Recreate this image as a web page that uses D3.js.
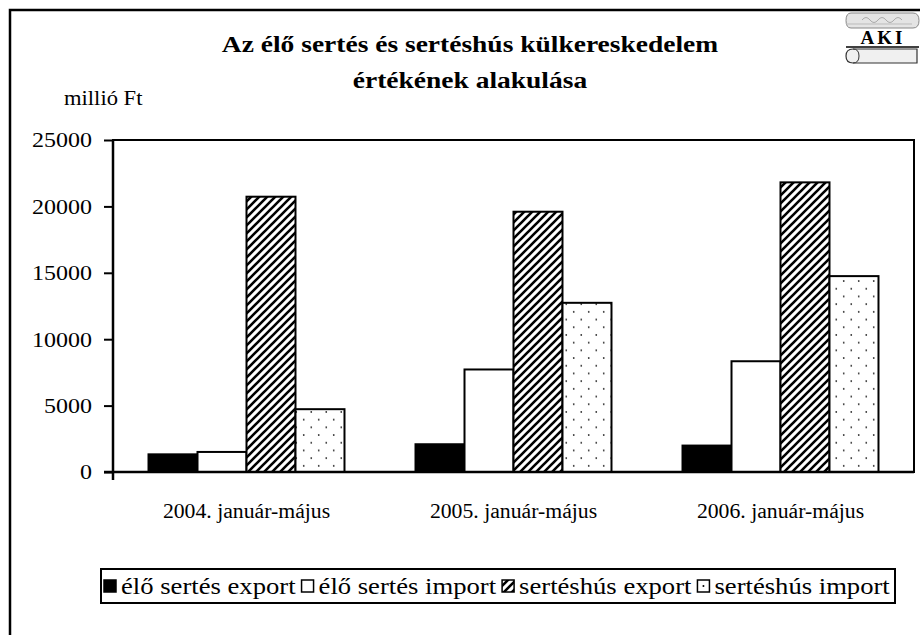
<!DOCTYPE html>
<html>
<head>
<meta charset="utf-8">
<script src="https://cdn.jsdelivr.net/npm/d3@7"></script>
<style>
  html, body { margin: 0; padding: 0; background: #fff; }
  text { font-family: "Liberation Serif", "Times New Roman", serif; fill: #000; }
</style>
</head>
<body>
<svg id="chart" width="920" height="635"></svg>
<script>
// ---- data ----
const categories = ["2004. január-május", "2005. január-május", "2006. január-május"];
const seriesNames = ["élő sertés export", "élő sertés import", "sertéshús export", "sertéshús import"];
const eloSertesExport = [1330, 2090, 1990];
const eloSertesImport = [1510, 7720, 8340];
const serteshusExport = [20730, 19600, 21810];
const serteshusImport = [4730, 12740, 14750];
const yTicks = [0, 5000, 10000, 15000, 20000, 25000];
const titleLines = ["Az élő sertés és sertéshús külkereskedelem", "értékének alakulása"];
const yUnit = "millió Ft";

const seriesValues = [eloSertesExport, eloSertesImport, serteshusExport, serteshusImport];
const fills = ["#000", "#fff", "url(#hatch)", "url(#dots)"];

const svg = d3.select("#chart");
svg.append("rect").attr("width", 920).attr("height", 635).attr("fill", "#fff");

const defs = svg.append("defs");
const hatch = defs.append("pattern").attr("id", "hatch").attr("patternUnits", "userSpaceOnUse")
  .attr("width", 8).attr("height", 8);
hatch.append("rect").attr("width", 8).attr("height", 8).attr("fill", "#fff");
hatch.append("path").attr("d", "M-2,2 L2,-2 M0,8 L8,0 M6,10 L10,6")
  .attr("stroke", "#000").attr("stroke-width", 2.6);
const dots = defs.append("pattern").attr("id", "dots").attr("patternUnits", "userSpaceOnUse")
  .attr("width", 15).attr("height", 15.4);
dots.append("rect").attr("width", 15).attr("height", 15.4).attr("fill", "#fff");
dots.append("circle").attr("cx", 3.75).attr("cy", 3.85).attr("r", 0.9).attr("fill", "#333");
dots.append("circle").attr("cx", 11.25).attr("cy", 11.55).attr("r", 0.9).attr("fill", "#333");

function stext(parent, x, y, str, size, sx, anchor, weight) {
  return parent.append("text")
    .attr("transform", `translate(${x},${y}) scale(${sx},1)`)
    .attr("font-size", size).attr("text-anchor", anchor || "start")
    .attr("font-weight", weight || "normal").text(str);
}

// outer frame
svg.append("rect").attr("x", 10).attr("y", 10).attr("width", 930).attr("height", 640)
  .attr("fill", "none").attr("stroke", "#000").attr("stroke-width", 2.5);

// title
stext(svg, 470, 52, titleLines[0], 23.5, 1.17, "middle", "bold");
stext(svg, 470, 88, titleLines[1], 23.5, 1.17, "middle", "bold");

// unit label
stext(svg, 64, 105, yUnit, 20, 1.13, "start");

// scales
const plot = { left: 113, right: 914, top: 140, bottom: 472 };
const x = d3.scaleBand().domain(categories).range([plot.left, plot.right])
  .paddingInner(0.266).paddingOuter(0.133);
const xs = d3.scaleBand().domain(d3.range(seriesNames.length)).range([0, x.bandwidth()]);
const y = d3.scaleLinear().domain([0, 25000]).range([plot.bottom, plot.top]);

// plot area border
svg.append("rect").attr("x", plot.left).attr("y", plot.top)
  .attr("width", plot.right - plot.left).attr("height", plot.bottom - plot.top)
  .attr("fill", "none").attr("stroke", "#000").attr("stroke-width", 2);

// bars
seriesValues.forEach((vals, si) => {
  svg.append("g").selectAll("rect").data(vals).join("rect")
    .attr("x", (d, i) => x(categories[i]) + xs(si))
    .attr("y", d => y(d))
    .attr("width", xs.bandwidth())
    .attr("height", d => y(0) - y(d))
    .attr("fill", fills[si]).attr("stroke", "#000").attr("stroke-width", 2);
});

// y axis
const yAxis = svg.append("g").attr("transform", `translate(${plot.left},0)`)
  .call(d3.axisLeft(y).tickValues(yTicks).tickSize(9).tickSizeOuter(0).tickPadding(0).tickFormat(d3.format("d")));
yAxis.select(".domain").attr("stroke-width", 2.5).attr("d", `M0,${plot.top}V${plot.bottom + 8}`);
yAxis.selectAll(".tick line").attr("stroke-width", 2);
yAxis.selectAll(".tick text").attr("x", null).attr("dy", "0.34em")
  .attr("transform", `translate(-21,0) scale(1.17,1)`)
  .attr("font-size", 20.5).attr("font-family", "Liberation Serif, Times New Roman, serif");

// x baseline
svg.append("line").attr("x1", plot.left - 9).attr("x2", plot.right)
  .attr("y1", y(0)).attr("y2", y(0)).attr("stroke", "#000").attr("stroke-width", 2.5);

// x labels
categories.forEach(c => stext(svg, x(c) + x.bandwidth() / 2, 518, c, 20.5, 1.06, "middle"));

// legend
const lg = svg.append("g");
lg.append("rect").attr("x", 101).attr("y", 569).attr("width", 794).attr("height", 34)
  .attr("fill", "#fff").attr("stroke", "#000").attr("stroke-width", 2);
let lx = 104;
seriesNames.forEach((n, i) => {
  lg.append("rect").attr("x", lx).attr("y", 580).attr("width", 12).attr("height", 12)
    .attr("fill", i === 3 ? "#fff" : fills[i]).attr("stroke", "#000").attr("stroke-width", 1.5);
  if (i === 3) lg.append("circle").attr("cx", lx + 6).attr("cy", 586).attr("r", 1).attr("fill", "#000");
  const t = stext(lg, lx + 17, 594, n, 22.2, 1.2, "start");
  const w = t.node().getComputedTextLength() * 1.2;
  lx += 17 + w + 6;
});

// AKI logo
const logo = svg.append("g");
logo.append("path").attr("d", "M851,13 H913 Q919,13 919,20.5 Q919,28 913,28 H851 Q846,28 846,20.5 Q846,13 851,13 Z")
  .attr("fill", "#e4e4e4").attr("stroke", "#888").attr("stroke-width", 1);
logo.append("path").attr("d", "M862,20 q4,-5 8,0 q4,5 8,0 q4,-5 8,0 q4,5 8,0 q4,-5 8,0")
  .attr("fill", "none").attr("stroke", "#aaa").attr("stroke-width", 1);
logo.append("path").attr("d", "M846,24 H912").attr("stroke", "#bbb").attr("stroke-width", 1);
logo.append("text").attr("x", 883).attr("y", 44).attr("text-anchor", "middle")
  .attr("font-size", 19).attr("font-weight", "bold").attr("letter-spacing", 3).text("AKI");
logo.append("line").attr("x1", 846).attr("x2", 919).attr("y1", 47).attr("y2", 47)
  .attr("stroke", "#000").attr("stroke-width", 1.5);
logo.append("path").attr("d", "M853,49 H917 V63 H853 Q846,63 846,56 Q846,49 853,49 Z")
  .attr("fill", "#f0f0f0").attr("stroke", "#333").attr("stroke-width", 1.2);
logo.append("path").attr("d", "M853,49 Q859,49 859,56 Q859,63 853,63")
  .attr("fill", "none").attr("stroke", "#333").attr("stroke-width", 1);
</script>
</body>
</html>
